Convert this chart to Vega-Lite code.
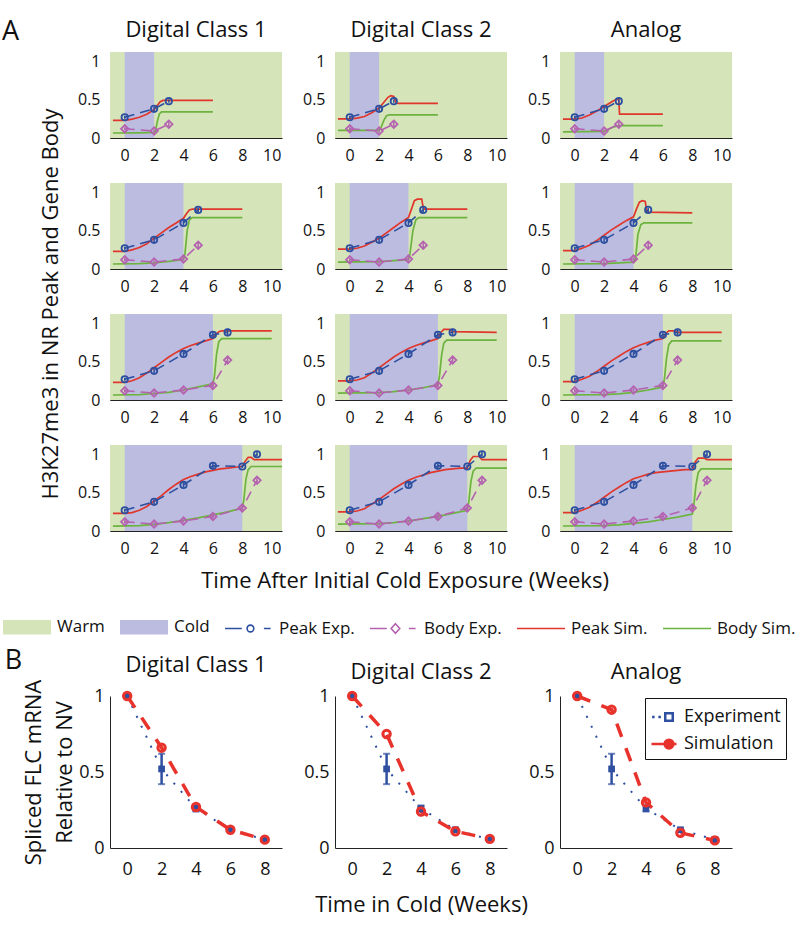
{
  "$schema": "https://vega.github.io/schema/vega-lite/v6.json",
  "padding": {"left": 2, "top": 18, "right": 2, "bottom": 4},
  "config": {
    "font": "Open Sans",
    "view": {"stroke": null},
    "axis": {"grid": false, "ticks": false, "domainColor": "#222", "domainWidth": 1, "labelColor": "#111", "titleColor": "#111", "titleFontWeight": "normal", "labelFlush": false, "labelOverlap": false},
    "header": {"labelColor": "#111", "titleColor": "#111", "titleFontWeight": "normal", "labelFontWeight": "normal"},
    "title": {"fontWeight": "normal", "color": "#111"},
    "legend": {"labelColor": "#111"}
  },
  "resolve": {"scale": {"color": "independent", "fill": "independent", "stroke": "independent", "shape": "independent"}},
  "datasets": {
    "a": [
      {"panel":"Digital Class 1","row":2,"series":"Warm","x":-1,"x2":10.7},
      {"panel":"Digital Class 1","row":4,"series":"Warm","x":-1,"x2":10.7},
      {"panel":"Digital Class 1","row":6,"series":"Warm","x":-1,"x2":10.7},
      {"panel":"Digital Class 1","row":8,"series":"Warm","x":-1,"x2":10.7},
      {"panel":"Digital Class 2","row":2,"series":"Warm","x":-1,"x2":10.7},
      {"panel":"Digital Class 2","row":4,"series":"Warm","x":-1,"x2":10.7},
      {"panel":"Digital Class 2","row":6,"series":"Warm","x":-1,"x2":10.7},
      {"panel":"Digital Class 2","row":8,"series":"Warm","x":-1,"x2":10.7},
      {"panel":"Analog","row":2,"series":"Warm","x":-1,"x2":10.7},
      {"panel":"Analog","row":4,"series":"Warm","x":-1,"x2":10.7},
      {"panel":"Analog","row":6,"series":"Warm","x":-1,"x2":10.7},
      {"panel":"Analog","row":8,"series":"Warm","x":-1,"x2":10.7},
      {"panel":"Digital Class 1","row":2,"series":"Cold","x":0,"x2":2},
      {"panel":"Digital Class 1","row":4,"series":"Cold","x":0,"x2":4},
      {"panel":"Digital Class 1","row":6,"series":"Cold","x":0,"x2":6},
      {"panel":"Digital Class 1","row":8,"series":"Cold","x":0,"x2":8},
      {"panel":"Digital Class 2","row":2,"series":"Cold","x":0,"x2":2},
      {"panel":"Digital Class 2","row":4,"series":"Cold","x":0,"x2":4},
      {"panel":"Digital Class 2","row":6,"series":"Cold","x":0,"x2":6},
      {"panel":"Digital Class 2","row":8,"series":"Cold","x":0,"x2":8},
      {"panel":"Analog","row":2,"series":"Cold","x":0,"x2":2},
      {"panel":"Analog","row":4,"series":"Cold","x":0,"x2":4},
      {"panel":"Analog","row":6,"series":"Cold","x":0,"x2":6},
      {"panel":"Analog","row":8,"series":"Cold","x":0,"x2":8},

      {"panel":"Digital Class 1","row":2,"series":"Peak Sim.","x":-0.8,"y":0.23},
      {"panel":"Digital Class 1","row":2,"series":"Peak Sim.","x":0,"y":0.23},
      {"panel":"Digital Class 1","row":2,"series":"Peak Sim.","x":0.5,"y":0.245},
      {"panel":"Digital Class 1","row":2,"series":"Peak Sim.","x":1,"y":0.27},
      {"panel":"Digital Class 1","row":2,"series":"Peak Sim.","x":1.5,"y":0.31},
      {"panel":"Digital Class 1","row":2,"series":"Peak Sim.","x":2,"y":0.37},
      {"panel":"Digital Class 1","row":2,"series":"Peak Sim.","x":2.2,"y":0.42},
      {"panel":"Digital Class 1","row":2,"series":"Peak Sim.","x":2.4,"y":0.47},
      {"panel":"Digital Class 1","row":2,"series":"Peak Sim.","x":2.6,"y":0.49},
      {"panel":"Digital Class 1","row":2,"series":"Peak Sim.","x":3,"y":0.49},
      {"panel":"Digital Class 1","row":2,"series":"Peak Sim.","x":6,"y":0.49},
      {"panel":"Digital Class 1","row":2,"series":"Body Sim.","x":-0.8,"y":0.065},
      {"panel":"Digital Class 1","row":2,"series":"Body Sim.","x":1,"y":0.068},
      {"panel":"Digital Class 1","row":2,"series":"Body Sim.","x":2,"y":0.072},
      {"panel":"Digital Class 1","row":2,"series":"Body Sim.","x":2.1,"y":0.09},
      {"panel":"Digital Class 1","row":2,"series":"Body Sim.","x":2.2,"y":0.2},
      {"panel":"Digital Class 1","row":2,"series":"Body Sim.","x":2.35,"y":0.31},
      {"panel":"Digital Class 1","row":2,"series":"Body Sim.","x":2.5,"y":0.34},
      {"panel":"Digital Class 1","row":2,"series":"Body Sim.","x":6,"y":0.34},

      {"panel":"Digital Class 1","row":4,"series":"Peak Sim.","x":-0.8,"y":0.23},
      {"panel":"Digital Class 1","row":4,"series":"Peak Sim.","x":0,"y":0.23},
      {"panel":"Digital Class 1","row":4,"series":"Peak Sim.","x":0.5,"y":0.25},
      {"panel":"Digital Class 1","row":4,"series":"Peak Sim.","x":1,"y":0.28},
      {"panel":"Digital Class 1","row":4,"series":"Peak Sim.","x":1.5,"y":0.33},
      {"panel":"Digital Class 1","row":4,"series":"Peak Sim.","x":2,"y":0.40},
      {"panel":"Digital Class 1","row":4,"series":"Peak Sim.","x":2.5,"y":0.47},
      {"panel":"Digital Class 1","row":4,"series":"Peak Sim.","x":3,"y":0.54},
      {"panel":"Digital Class 1","row":4,"series":"Peak Sim.","x":3.5,"y":0.60},
      {"panel":"Digital Class 1","row":4,"series":"Peak Sim.","x":4,"y":0.66},
      {"panel":"Digital Class 1","row":4,"series":"Peak Sim.","x":4.2,"y":0.72},
      {"panel":"Digital Class 1","row":4,"series":"Peak Sim.","x":4.4,"y":0.77},
      {"panel":"Digital Class 1","row":4,"series":"Peak Sim.","x":4.6,"y":0.78},
      {"panel":"Digital Class 1","row":4,"series":"Peak Sim.","x":8,"y":0.78},
      {"panel":"Digital Class 1","row":4,"series":"Body Sim.","x":-0.8,"y":0.065},
      {"panel":"Digital Class 1","row":4,"series":"Body Sim.","x":1,"y":0.07},
      {"panel":"Digital Class 1","row":4,"series":"Body Sim.","x":2,"y":0.08},
      {"panel":"Digital Class 1","row":4,"series":"Body Sim.","x":3,"y":0.10},
      {"panel":"Digital Class 1","row":4,"series":"Body Sim.","x":4,"y":0.125},
      {"panel":"Digital Class 1","row":4,"series":"Body Sim.","x":4.1,"y":0.2},
      {"panel":"Digital Class 1","row":4,"series":"Body Sim.","x":4.25,"y":0.5},
      {"panel":"Digital Class 1","row":4,"series":"Body Sim.","x":4.4,"y":0.64},
      {"panel":"Digital Class 1","row":4,"series":"Body Sim.","x":4.6,"y":0.67},
      {"panel":"Digital Class 1","row":4,"series":"Body Sim.","x":8,"y":0.67},

      {"panel":"Digital Class 1","row":6,"series":"Peak Sim.","x":-0.8,"y":0.23},
      {"panel":"Digital Class 1","row":6,"series":"Peak Sim.","x":0,"y":0.23},
      {"panel":"Digital Class 1","row":6,"series":"Peak Sim.","x":0.5,"y":0.25},
      {"panel":"Digital Class 1","row":6,"series":"Peak Sim.","x":1,"y":0.29},
      {"panel":"Digital Class 1","row":6,"series":"Peak Sim.","x":1.5,"y":0.35},
      {"panel":"Digital Class 1","row":6,"series":"Peak Sim.","x":2,"y":0.42},
      {"panel":"Digital Class 1","row":6,"series":"Peak Sim.","x":2.5,"y":0.49},
      {"panel":"Digital Class 1","row":6,"series":"Peak Sim.","x":3,"y":0.56},
      {"panel":"Digital Class 1","row":6,"series":"Peak Sim.","x":3.5,"y":0.62},
      {"panel":"Digital Class 1","row":6,"series":"Peak Sim.","x":4,"y":0.67},
      {"panel":"Digital Class 1","row":6,"series":"Peak Sim.","x":4.5,"y":0.71},
      {"panel":"Digital Class 1","row":6,"series":"Peak Sim.","x":5,"y":0.74},
      {"panel":"Digital Class 1","row":6,"series":"Peak Sim.","x":5.5,"y":0.77},
      {"panel":"Digital Class 1","row":6,"series":"Peak Sim.","x":6,"y":0.80},
      {"panel":"Digital Class 1","row":6,"series":"Peak Sim.","x":6.2,"y":0.86},
      {"panel":"Digital Class 1","row":6,"series":"Peak Sim.","x":6.4,"y":0.89},
      {"panel":"Digital Class 1","row":6,"series":"Peak Sim.","x":6.6,"y":0.90},
      {"panel":"Digital Class 1","row":6,"series":"Peak Sim.","x":10,"y":0.90},
      {"panel":"Digital Class 1","row":6,"series":"Body Sim.","x":-0.8,"y":0.065},
      {"panel":"Digital Class 1","row":6,"series":"Body Sim.","x":1,"y":0.07},
      {"panel":"Digital Class 1","row":6,"series":"Body Sim.","x":2,"y":0.085},
      {"panel":"Digital Class 1","row":6,"series":"Body Sim.","x":3,"y":0.10},
      {"panel":"Digital Class 1","row":6,"series":"Body Sim.","x":4,"y":0.13},
      {"panel":"Digital Class 1","row":6,"series":"Body Sim.","x":5,"y":0.17},
      {"panel":"Digital Class 1","row":6,"series":"Body Sim.","x":6,"y":0.21},
      {"panel":"Digital Class 1","row":6,"series":"Body Sim.","x":6.1,"y":0.30},
      {"panel":"Digital Class 1","row":6,"series":"Body Sim.","x":6.25,"y":0.60},
      {"panel":"Digital Class 1","row":6,"series":"Body Sim.","x":6.4,"y":0.76},
      {"panel":"Digital Class 1","row":6,"series":"Body Sim.","x":6.6,"y":0.80},
      {"panel":"Digital Class 1","row":6,"series":"Body Sim.","x":10,"y":0.80},

      {"panel":"Digital Class 1","row":8,"series":"Peak Sim.","x":-0.8,"y":0.23},
      {"panel":"Digital Class 1","row":8,"series":"Peak Sim.","x":0,"y":0.23},
      {"panel":"Digital Class 1","row":8,"series":"Peak Sim.","x":0.5,"y":0.24},
      {"panel":"Digital Class 1","row":8,"series":"Peak Sim.","x":1,"y":0.27},
      {"panel":"Digital Class 1","row":8,"series":"Peak Sim.","x":1.5,"y":0.32},
      {"panel":"Digital Class 1","row":8,"series":"Peak Sim.","x":2,"y":0.39},
      {"panel":"Digital Class 1","row":8,"series":"Peak Sim.","x":2.5,"y":0.46},
      {"panel":"Digital Class 1","row":8,"series":"Peak Sim.","x":3,"y":0.54},
      {"panel":"Digital Class 1","row":8,"series":"Peak Sim.","x":3.5,"y":0.61},
      {"panel":"Digital Class 1","row":8,"series":"Peak Sim.","x":4,"y":0.67},
      {"panel":"Digital Class 1","row":8,"series":"Peak Sim.","x":4.5,"y":0.71},
      {"panel":"Digital Class 1","row":8,"series":"Peak Sim.","x":5,"y":0.74},
      {"panel":"Digital Class 1","row":8,"series":"Peak Sim.","x":5.5,"y":0.77},
      {"panel":"Digital Class 1","row":8,"series":"Peak Sim.","x":6,"y":0.79},
      {"panel":"Digital Class 1","row":8,"series":"Peak Sim.","x":6.5,"y":0.81},
      {"panel":"Digital Class 1","row":8,"series":"Peak Sim.","x":7,"y":0.82},
      {"panel":"Digital Class 1","row":8,"series":"Peak Sim.","x":7.5,"y":0.83},
      {"panel":"Digital Class 1","row":8,"series":"Peak Sim.","x":8,"y":0.84},
      {"panel":"Digital Class 1","row":8,"series":"Peak Sim.","x":8.2,"y":0.91},
      {"panel":"Digital Class 1","row":8,"series":"Peak Sim.","x":8.4,"y":0.96},
      {"panel":"Digital Class 1","row":8,"series":"Peak Sim.","x":8.6,"y":0.96},
      {"panel":"Digital Class 1","row":8,"series":"Peak Sim.","x":8.8,"y":0.93},
      {"panel":"Digital Class 1","row":8,"series":"Peak Sim.","x":10.7,"y":0.93},
      {"panel":"Digital Class 1","row":8,"series":"Body Sim.","x":-0.8,"y":0.064},
      {"panel":"Digital Class 1","row":8,"series":"Body Sim.","x":1,"y":0.07},
      {"panel":"Digital Class 1","row":8,"series":"Body Sim.","x":2,"y":0.086},
      {"panel":"Digital Class 1","row":8,"series":"Body Sim.","x":3,"y":0.11},
      {"panel":"Digital Class 1","row":8,"series":"Body Sim.","x":4,"y":0.14},
      {"panel":"Digital Class 1","row":8,"series":"Body Sim.","x":5,"y":0.17},
      {"panel":"Digital Class 1","row":8,"series":"Body Sim.","x":6,"y":0.21},
      {"panel":"Digital Class 1","row":8,"series":"Body Sim.","x":7,"y":0.25},
      {"panel":"Digital Class 1","row":8,"series":"Body Sim.","x":8,"y":0.30},
      {"panel":"Digital Class 1","row":8,"series":"Body Sim.","x":8.1,"y":0.40},
      {"panel":"Digital Class 1","row":8,"series":"Body Sim.","x":8.25,"y":0.68},
      {"panel":"Digital Class 1","row":8,"series":"Body Sim.","x":8.4,"y":0.80},
      {"panel":"Digital Class 1","row":8,"series":"Body Sim.","x":8.6,"y":0.84},
      {"panel":"Digital Class 1","row":8,"series":"Body Sim.","x":10.7,"y":0.84},

      {"panel":"Digital Class 2","row":2,"series":"Peak Sim.","x":-0.8,"y":0.25},
      {"panel":"Digital Class 2","row":2,"series":"Peak Sim.","x":0,"y":0.25},
      {"panel":"Digital Class 2","row":2,"series":"Peak Sim.","x":0.5,"y":0.26},
      {"panel":"Digital Class 2","row":2,"series":"Peak Sim.","x":1,"y":0.28},
      {"panel":"Digital Class 2","row":2,"series":"Peak Sim.","x":1.5,"y":0.33},
      {"panel":"Digital Class 2","row":2,"series":"Peak Sim.","x":2,"y":0.39},
      {"panel":"Digital Class 2","row":2,"series":"Peak Sim.","x":2.3,"y":0.46},
      {"panel":"Digital Class 2","row":2,"series":"Peak Sim.","x":2.6,"y":0.53},
      {"panel":"Digital Class 2","row":2,"series":"Peak Sim.","x":2.8,"y":0.55},
      {"panel":"Digital Class 2","row":2,"series":"Peak Sim.","x":3.0,"y":0.54},
      {"panel":"Digital Class 2","row":2,"series":"Peak Sim.","x":3.15,"y":0.46},
      {"panel":"Digital Class 2","row":2,"series":"Peak Sim.","x":3.3,"y":0.45},
      {"panel":"Digital Class 2","row":2,"series":"Peak Sim.","x":6,"y":0.45},
      {"panel":"Digital Class 2","row":2,"series":"Body Sim.","x":-0.8,"y":0.10},
      {"panel":"Digital Class 2","row":2,"series":"Body Sim.","x":2,"y":0.10},
      {"panel":"Digital Class 2","row":2,"series":"Body Sim.","x":2.1,"y":0.12},
      {"panel":"Digital Class 2","row":2,"series":"Body Sim.","x":2.3,"y":0.22},
      {"panel":"Digital Class 2","row":2,"series":"Body Sim.","x":2.5,"y":0.29},
      {"panel":"Digital Class 2","row":2,"series":"Body Sim.","x":2.7,"y":0.30},
      {"panel":"Digital Class 2","row":2,"series":"Body Sim.","x":6,"y":0.30},

      {"panel":"Digital Class 2","row":4,"series":"Peak Sim.","x":-0.8,"y":0.26},
      {"panel":"Digital Class 2","row":4,"series":"Peak Sim.","x":0,"y":0.26},
      {"panel":"Digital Class 2","row":4,"series":"Peak Sim.","x":0.5,"y":0.27},
      {"panel":"Digital Class 2","row":4,"series":"Peak Sim.","x":1,"y":0.30},
      {"panel":"Digital Class 2","row":4,"series":"Peak Sim.","x":1.5,"y":0.35},
      {"panel":"Digital Class 2","row":4,"series":"Peak Sim.","x":2,"y":0.40},
      {"panel":"Digital Class 2","row":4,"series":"Peak Sim.","x":2.5,"y":0.47},
      {"panel":"Digital Class 2","row":4,"series":"Peak Sim.","x":3,"y":0.54},
      {"panel":"Digital Class 2","row":4,"series":"Peak Sim.","x":3.5,"y":0.61},
      {"panel":"Digital Class 2","row":4,"series":"Peak Sim.","x":4,"y":0.67},
      {"panel":"Digital Class 2","row":4,"series":"Peak Sim.","x":4.2,"y":0.78},
      {"panel":"Digital Class 2","row":4,"series":"Peak Sim.","x":4.4,"y":0.89},
      {"panel":"Digital Class 2","row":4,"series":"Peak Sim.","x":4.6,"y":0.91},
      {"panel":"Digital Class 2","row":4,"series":"Peak Sim.","x":4.9,"y":0.91},
      {"panel":"Digital Class 2","row":4,"series":"Peak Sim.","x":5.0,"y":0.80},
      {"panel":"Digital Class 2","row":4,"series":"Peak Sim.","x":5.1,"y":0.78},
      {"panel":"Digital Class 2","row":4,"series":"Peak Sim.","x":8,"y":0.78},
      {"panel":"Digital Class 2","row":4,"series":"Body Sim.","x":-0.8,"y":0.09},
      {"panel":"Digital Class 2","row":4,"series":"Body Sim.","x":2,"y":0.095},
      {"panel":"Digital Class 2","row":4,"series":"Body Sim.","x":3,"y":0.11},
      {"panel":"Digital Class 2","row":4,"series":"Body Sim.","x":4,"y":0.12},
      {"panel":"Digital Class 2","row":4,"series":"Body Sim.","x":4.1,"y":0.20},
      {"panel":"Digital Class 2","row":4,"series":"Body Sim.","x":4.3,"y":0.50},
      {"panel":"Digital Class 2","row":4,"series":"Body Sim.","x":4.5,"y":0.64},
      {"panel":"Digital Class 2","row":4,"series":"Body Sim.","x":4.7,"y":0.67},
      {"panel":"Digital Class 2","row":4,"series":"Body Sim.","x":8,"y":0.67},

      {"panel":"Digital Class 2","row":6,"series":"Peak Sim.","x":-0.8,"y":0.25},
      {"panel":"Digital Class 2","row":6,"series":"Peak Sim.","x":0,"y":0.25},
      {"panel":"Digital Class 2","row":6,"series":"Peak Sim.","x":0.5,"y":0.26},
      {"panel":"Digital Class 2","row":6,"series":"Peak Sim.","x":1,"y":0.29},
      {"panel":"Digital Class 2","row":6,"series":"Peak Sim.","x":1.5,"y":0.35},
      {"panel":"Digital Class 2","row":6,"series":"Peak Sim.","x":2,"y":0.42},
      {"panel":"Digital Class 2","row":6,"series":"Peak Sim.","x":2.5,"y":0.49},
      {"panel":"Digital Class 2","row":6,"series":"Peak Sim.","x":3,"y":0.56},
      {"panel":"Digital Class 2","row":6,"series":"Peak Sim.","x":3.5,"y":0.62},
      {"panel":"Digital Class 2","row":6,"series":"Peak Sim.","x":4,"y":0.67},
      {"panel":"Digital Class 2","row":6,"series":"Peak Sim.","x":4.5,"y":0.71},
      {"panel":"Digital Class 2","row":6,"series":"Peak Sim.","x":5,"y":0.74},
      {"panel":"Digital Class 2","row":6,"series":"Peak Sim.","x":5.5,"y":0.77},
      {"panel":"Digital Class 2","row":6,"series":"Peak Sim.","x":6,"y":0.80},
      {"panel":"Digital Class 2","row":6,"series":"Peak Sim.","x":6.2,"y":0.88},
      {"panel":"Digital Class 2","row":6,"series":"Peak Sim.","x":6.4,"y":0.92},
      {"panel":"Digital Class 2","row":6,"series":"Peak Sim.","x":6.8,"y":0.92},
      {"panel":"Digital Class 2","row":6,"series":"Peak Sim.","x":7.0,"y":0.89},
      {"panel":"Digital Class 2","row":6,"series":"Peak Sim.","x":10,"y":0.88},
      {"panel":"Digital Class 2","row":6,"series":"Body Sim.","x":-0.8,"y":0.09},
      {"panel":"Digital Class 2","row":6,"series":"Body Sim.","x":2,"y":0.095},
      {"panel":"Digital Class 2","row":6,"series":"Body Sim.","x":3,"y":0.11},
      {"panel":"Digital Class 2","row":6,"series":"Body Sim.","x":4,"y":0.13},
      {"panel":"Digital Class 2","row":6,"series":"Body Sim.","x":5,"y":0.16},
      {"panel":"Digital Class 2","row":6,"series":"Body Sim.","x":6,"y":0.20},
      {"panel":"Digital Class 2","row":6,"series":"Body Sim.","x":6.1,"y":0.30},
      {"panel":"Digital Class 2","row":6,"series":"Body Sim.","x":6.25,"y":0.58},
      {"panel":"Digital Class 2","row":6,"series":"Body Sim.","x":6.4,"y":0.74},
      {"panel":"Digital Class 2","row":6,"series":"Body Sim.","x":6.6,"y":0.78},
      {"panel":"Digital Class 2","row":6,"series":"Body Sim.","x":10,"y":0.78},

      {"panel":"Digital Class 2","row":8,"series":"Peak Sim.","x":-0.8,"y":0.25},
      {"panel":"Digital Class 2","row":8,"series":"Peak Sim.","x":0,"y":0.25},
      {"panel":"Digital Class 2","row":8,"series":"Peak Sim.","x":0.5,"y":0.26},
      {"panel":"Digital Class 2","row":8,"series":"Peak Sim.","x":1,"y":0.29},
      {"panel":"Digital Class 2","row":8,"series":"Peak Sim.","x":1.5,"y":0.35},
      {"panel":"Digital Class 2","row":8,"series":"Peak Sim.","x":2,"y":0.41},
      {"panel":"Digital Class 2","row":8,"series":"Peak Sim.","x":2.5,"y":0.48},
      {"panel":"Digital Class 2","row":8,"series":"Peak Sim.","x":3,"y":0.55},
      {"panel":"Digital Class 2","row":8,"series":"Peak Sim.","x":3.5,"y":0.61},
      {"panel":"Digital Class 2","row":8,"series":"Peak Sim.","x":4,"y":0.66},
      {"panel":"Digital Class 2","row":8,"series":"Peak Sim.","x":4.5,"y":0.70},
      {"panel":"Digital Class 2","row":8,"series":"Peak Sim.","x":5,"y":0.73},
      {"panel":"Digital Class 2","row":8,"series":"Peak Sim.","x":5.5,"y":0.76},
      {"panel":"Digital Class 2","row":8,"series":"Peak Sim.","x":6,"y":0.78},
      {"panel":"Digital Class 2","row":8,"series":"Peak Sim.","x":6.5,"y":0.80},
      {"panel":"Digital Class 2","row":8,"series":"Peak Sim.","x":7,"y":0.81},
      {"panel":"Digital Class 2","row":8,"series":"Peak Sim.","x":7.5,"y":0.82},
      {"panel":"Digital Class 2","row":8,"series":"Peak Sim.","x":8,"y":0.82},
      {"panel":"Digital Class 2","row":8,"series":"Peak Sim.","x":8.2,"y":0.92},
      {"panel":"Digital Class 2","row":8,"series":"Peak Sim.","x":8.4,"y":0.97},
      {"panel":"Digital Class 2","row":8,"series":"Peak Sim.","x":8.8,"y":0.97},
      {"panel":"Digital Class 2","row":8,"series":"Peak Sim.","x":9.0,"y":0.93},
      {"panel":"Digital Class 2","row":8,"series":"Peak Sim.","x":10.7,"y":0.93},
      {"panel":"Digital Class 2","row":8,"series":"Body Sim.","x":-0.8,"y":0.09},
      {"panel":"Digital Class 2","row":8,"series":"Body Sim.","x":2,"y":0.095},
      {"panel":"Digital Class 2","row":8,"series":"Body Sim.","x":3,"y":0.11},
      {"panel":"Digital Class 2","row":8,"series":"Body Sim.","x":4,"y":0.13},
      {"panel":"Digital Class 2","row":8,"series":"Body Sim.","x":5,"y":0.16},
      {"panel":"Digital Class 2","row":8,"series":"Body Sim.","x":6,"y":0.19},
      {"panel":"Digital Class 2","row":8,"series":"Body Sim.","x":7,"y":0.23},
      {"panel":"Digital Class 2","row":8,"series":"Body Sim.","x":8,"y":0.27},
      {"panel":"Digital Class 2","row":8,"series":"Body Sim.","x":8.1,"y":0.38},
      {"panel":"Digital Class 2","row":8,"series":"Body Sim.","x":8.25,"y":0.65},
      {"panel":"Digital Class 2","row":8,"series":"Body Sim.","x":8.4,"y":0.78},
      {"panel":"Digital Class 2","row":8,"series":"Body Sim.","x":8.6,"y":0.82},
      {"panel":"Digital Class 2","row":8,"series":"Body Sim.","x":10.7,"y":0.82},

      {"panel":"Analog","row":2,"series":"Peak Sim.","x":-0.8,"y":0.245},
      {"panel":"Analog","row":2,"series":"Peak Sim.","x":0,"y":0.245},
      {"panel":"Analog","row":2,"series":"Peak Sim.","x":0.5,"y":0.26},
      {"panel":"Analog","row":2,"series":"Peak Sim.","x":1,"y":0.30},
      {"panel":"Analog","row":2,"series":"Peak Sim.","x":1.5,"y":0.35},
      {"panel":"Analog","row":2,"series":"Peak Sim.","x":2,"y":0.41},
      {"panel":"Analog","row":2,"series":"Peak Sim.","x":2.5,"y":0.47},
      {"panel":"Analog","row":2,"series":"Peak Sim.","x":2.8,"y":0.50},
      {"panel":"Analog","row":2,"series":"Peak Sim.","x":3.0,"y":0.51},
      {"panel":"Analog","row":2,"series":"Peak Sim.","x":3.05,"y":0.31},
      {"panel":"Analog","row":2,"series":"Peak Sim.","x":6,"y":0.31},
      {"panel":"Analog","row":2,"series":"Body Sim.","x":-0.8,"y":0.08},
      {"panel":"Analog","row":2,"series":"Body Sim.","x":2,"y":0.085},
      {"panel":"Analog","row":2,"series":"Body Sim.","x":2.3,"y":0.11},
      {"panel":"Analog","row":2,"series":"Body Sim.","x":2.6,"y":0.14},
      {"panel":"Analog","row":2,"series":"Body Sim.","x":3,"y":0.16},
      {"panel":"Analog","row":2,"series":"Body Sim.","x":6,"y":0.16},

      {"panel":"Analog","row":4,"series":"Peak Sim.","x":-0.8,"y":0.24},
      {"panel":"Analog","row":4,"series":"Peak Sim.","x":0,"y":0.24},
      {"panel":"Analog","row":4,"series":"Peak Sim.","x":0.5,"y":0.27},
      {"panel":"Analog","row":4,"series":"Peak Sim.","x":1,"y":0.31},
      {"panel":"Analog","row":4,"series":"Peak Sim.","x":1.5,"y":0.37},
      {"panel":"Analog","row":4,"series":"Peak Sim.","x":2,"y":0.44},
      {"panel":"Analog","row":4,"series":"Peak Sim.","x":2.5,"y":0.51},
      {"panel":"Analog","row":4,"series":"Peak Sim.","x":3,"y":0.57},
      {"panel":"Analog","row":4,"series":"Peak Sim.","x":3.5,"y":0.63},
      {"panel":"Analog","row":4,"series":"Peak Sim.","x":4,"y":0.68},
      {"panel":"Analog","row":4,"series":"Peak Sim.","x":4.2,"y":0.78},
      {"panel":"Analog","row":4,"series":"Peak Sim.","x":4.4,"y":0.87},
      {"panel":"Analog","row":4,"series":"Peak Sim.","x":4.6,"y":0.89},
      {"panel":"Analog","row":4,"series":"Peak Sim.","x":4.8,"y":0.88},
      {"panel":"Analog","row":4,"series":"Peak Sim.","x":4.9,"y":0.74},
      {"panel":"Analog","row":4,"series":"Peak Sim.","x":8,"y":0.73},
      {"panel":"Analog","row":4,"series":"Body Sim.","x":-0.8,"y":0.065},
      {"panel":"Analog","row":4,"series":"Body Sim.","x":2,"y":0.07},
      {"panel":"Analog","row":4,"series":"Body Sim.","x":3,"y":0.08},
      {"panel":"Analog","row":4,"series":"Body Sim.","x":4,"y":0.09},
      {"panel":"Analog","row":4,"series":"Body Sim.","x":4.15,"y":0.15},
      {"panel":"Analog","row":4,"series":"Body Sim.","x":4.3,"y":0.45},
      {"panel":"Analog","row":4,"series":"Body Sim.","x":4.5,"y":0.58},
      {"panel":"Analog","row":4,"series":"Body Sim.","x":4.7,"y":0.60},
      {"panel":"Analog","row":4,"series":"Body Sim.","x":8,"y":0.60},

      {"panel":"Analog","row":6,"series":"Peak Sim.","x":-0.8,"y":0.24},
      {"panel":"Analog","row":6,"series":"Peak Sim.","x":0,"y":0.24},
      {"panel":"Analog","row":6,"series":"Peak Sim.","x":0.5,"y":0.27},
      {"panel":"Analog","row":6,"series":"Peak Sim.","x":1,"y":0.31},
      {"panel":"Analog","row":6,"series":"Peak Sim.","x":1.5,"y":0.37},
      {"panel":"Analog","row":6,"series":"Peak Sim.","x":2,"y":0.44},
      {"panel":"Analog","row":6,"series":"Peak Sim.","x":2.5,"y":0.51},
      {"panel":"Analog","row":6,"series":"Peak Sim.","x":3,"y":0.57},
      {"panel":"Analog","row":6,"series":"Peak Sim.","x":3.5,"y":0.63},
      {"panel":"Analog","row":6,"series":"Peak Sim.","x":4,"y":0.68},
      {"panel":"Analog","row":6,"series":"Peak Sim.","x":4.5,"y":0.72},
      {"panel":"Analog","row":6,"series":"Peak Sim.","x":5,"y":0.75},
      {"panel":"Analog","row":6,"series":"Peak Sim.","x":5.5,"y":0.78},
      {"panel":"Analog","row":6,"series":"Peak Sim.","x":6,"y":0.80},
      {"panel":"Analog","row":6,"series":"Peak Sim.","x":6.2,"y":0.87},
      {"panel":"Analog","row":6,"series":"Peak Sim.","x":6.4,"y":0.90},
      {"panel":"Analog","row":6,"series":"Peak Sim.","x":6.8,"y":0.90},
      {"panel":"Analog","row":6,"series":"Peak Sim.","x":7,"y":0.88},
      {"panel":"Analog","row":6,"series":"Peak Sim.","x":10,"y":0.88},
      {"panel":"Analog","row":6,"series":"Body Sim.","x":-0.8,"y":0.065},
      {"panel":"Analog","row":6,"series":"Body Sim.","x":2,"y":0.07},
      {"panel":"Analog","row":6,"series":"Body Sim.","x":3,"y":0.08},
      {"panel":"Analog","row":6,"series":"Body Sim.","x":4,"y":0.10},
      {"panel":"Analog","row":6,"series":"Body Sim.","x":5,"y":0.13},
      {"panel":"Analog","row":6,"series":"Body Sim.","x":6,"y":0.17},
      {"panel":"Analog","row":6,"series":"Body Sim.","x":6.1,"y":0.27},
      {"panel":"Analog","row":6,"series":"Body Sim.","x":6.25,"y":0.55},
      {"panel":"Analog","row":6,"series":"Body Sim.","x":6.4,"y":0.72},
      {"panel":"Analog","row":6,"series":"Body Sim.","x":6.6,"y":0.77},
      {"panel":"Analog","row":6,"series":"Body Sim.","x":10,"y":0.77},

      {"panel":"Analog","row":8,"series":"Peak Sim.","x":-0.8,"y":0.24},
      {"panel":"Analog","row":8,"series":"Peak Sim.","x":0,"y":0.24},
      {"panel":"Analog","row":8,"series":"Peak Sim.","x":0.5,"y":0.27},
      {"panel":"Analog","row":8,"series":"Peak Sim.","x":1,"y":0.31},
      {"panel":"Analog","row":8,"series":"Peak Sim.","x":1.5,"y":0.37},
      {"panel":"Analog","row":8,"series":"Peak Sim.","x":2,"y":0.44},
      {"panel":"Analog","row":8,"series":"Peak Sim.","x":2.5,"y":0.51},
      {"panel":"Analog","row":8,"series":"Peak Sim.","x":3,"y":0.57},
      {"panel":"Analog","row":8,"series":"Peak Sim.","x":3.5,"y":0.63},
      {"panel":"Analog","row":8,"series":"Peak Sim.","x":4,"y":0.68},
      {"panel":"Analog","row":8,"series":"Peak Sim.","x":4.5,"y":0.71},
      {"panel":"Analog","row":8,"series":"Peak Sim.","x":5,"y":0.74},
      {"panel":"Analog","row":8,"series":"Peak Sim.","x":5.5,"y":0.76},
      {"panel":"Analog","row":8,"series":"Peak Sim.","x":6,"y":0.77},
      {"panel":"Analog","row":8,"series":"Peak Sim.","x":6.5,"y":0.78},
      {"panel":"Analog","row":8,"series":"Peak Sim.","x":7,"y":0.79},
      {"panel":"Analog","row":8,"series":"Peak Sim.","x":7.5,"y":0.80},
      {"panel":"Analog","row":8,"series":"Peak Sim.","x":8,"y":0.80},
      {"panel":"Analog","row":8,"series":"Peak Sim.","x":8.2,"y":0.90},
      {"panel":"Analog","row":8,"series":"Peak Sim.","x":8.4,"y":0.95},
      {"panel":"Analog","row":8,"series":"Peak Sim.","x":8.8,"y":0.95},
      {"panel":"Analog","row":8,"series":"Peak Sim.","x":9.0,"y":0.93},
      {"panel":"Analog","row":8,"series":"Peak Sim.","x":10.7,"y":0.93},
      {"panel":"Analog","row":8,"series":"Body Sim.","x":-0.8,"y":0.065},
      {"panel":"Analog","row":8,"series":"Body Sim.","x":2,"y":0.07},
      {"panel":"Analog","row":8,"series":"Body Sim.","x":3,"y":0.08},
      {"panel":"Analog","row":8,"series":"Body Sim.","x":4,"y":0.10},
      {"panel":"Analog","row":8,"series":"Body Sim.","x":5,"y":0.12},
      {"panel":"Analog","row":8,"series":"Body Sim.","x":6,"y":0.15},
      {"panel":"Analog","row":8,"series":"Body Sim.","x":7,"y":0.18},
      {"panel":"Analog","row":8,"series":"Body Sim.","x":8,"y":0.22},
      {"panel":"Analog","row":8,"series":"Body Sim.","x":8.1,"y":0.33},
      {"panel":"Analog","row":8,"series":"Body Sim.","x":8.25,"y":0.60},
      {"panel":"Analog","row":8,"series":"Body Sim.","x":8.4,"y":0.76},
      {"panel":"Analog","row":8,"series":"Body Sim.","x":8.6,"y":0.81},
      {"panel":"Analog","row":8,"series":"Body Sim.","x":10.7,"y":0.81},

      {"panel":"Digital Class 1","row":2,"series":"Peak Exp.","x":0,"y":0.27,"lo":0.25,"hi":0.29},
      {"panel":"Digital Class 1","row":2,"series":"Peak Exp.","x":2,"y":0.38,"lo":0.35,"hi":0.41},
      {"panel":"Digital Class 1","row":2,"series":"Peak Exp.","x":3,"y":0.48,"lo":0.46,"hi":0.50},
      {"panel":"Digital Class 1","row":2,"series":"Body Exp.","x":0,"y":0.12,"lo":0.10,"hi":0.14},
      {"panel":"Digital Class 1","row":2,"series":"Body Exp.","x":2,"y":0.09,"lo":0.07,"hi":0.11},
      {"panel":"Digital Class 1","row":2,"series":"Body Exp.","x":3,"y":0.18,"lo":0.15,"hi":0.21},
      {"panel":"Digital Class 1","row":4,"series":"Peak Exp.","x":0,"y":0.27,"lo":0.25,"hi":0.29},
      {"panel":"Digital Class 1","row":4,"series":"Peak Exp.","x":2,"y":0.38,"lo":0.35,"hi":0.41},
      {"panel":"Digital Class 1","row":4,"series":"Peak Exp.","x":4,"y":0.60,"lo":0.57,"hi":0.63},
      {"panel":"Digital Class 1","row":4,"series":"Peak Exp.","x":5,"y":0.77,"lo":0.74,"hi":0.80},
      {"panel":"Digital Class 1","row":4,"series":"Body Exp.","x":0,"y":0.12,"lo":0.10,"hi":0.14},
      {"panel":"Digital Class 1","row":4,"series":"Body Exp.","x":2,"y":0.09,"lo":0.07,"hi":0.11},
      {"panel":"Digital Class 1","row":4,"series":"Body Exp.","x":4,"y":0.13,"lo":0.11,"hi":0.15},
      {"panel":"Digital Class 1","row":4,"series":"Body Exp.","x":5,"y":0.31,"lo":0.27,"hi":0.35},
      {"panel":"Digital Class 1","row":6,"series":"Peak Exp.","x":0,"y":0.27,"lo":0.25,"hi":0.29},
      {"panel":"Digital Class 1","row":6,"series":"Peak Exp.","x":2,"y":0.38,"lo":0.35,"hi":0.41},
      {"panel":"Digital Class 1","row":6,"series":"Peak Exp.","x":4,"y":0.60,"lo":0.57,"hi":0.63},
      {"panel":"Digital Class 1","row":6,"series":"Peak Exp.","x":6,"y":0.85,"lo":0.80,"hi":0.90},
      {"panel":"Digital Class 1","row":6,"series":"Peak Exp.","x":7,"y":0.88,"lo":0.83,"hi":0.93},
      {"panel":"Digital Class 1","row":6,"series":"Body Exp.","x":0,"y":0.12,"lo":0.10,"hi":0.14},
      {"panel":"Digital Class 1","row":6,"series":"Body Exp.","x":2,"y":0.09,"lo":0.07,"hi":0.11},
      {"panel":"Digital Class 1","row":6,"series":"Body Exp.","x":4,"y":0.13,"lo":0.11,"hi":0.15},
      {"panel":"Digital Class 1","row":6,"series":"Body Exp.","x":6,"y":0.19,"lo":0.16,"hi":0.22},
      {"panel":"Digital Class 1","row":6,"series":"Body Exp.","x":7,"y":0.52,"lo":0.47,"hi":0.57},
      {"panel":"Digital Class 1","row":8,"series":"Peak Exp.","x":0,"y":0.27,"lo":0.25,"hi":0.29},
      {"panel":"Digital Class 1","row":8,"series":"Peak Exp.","x":2,"y":0.38,"lo":0.35,"hi":0.41},
      {"panel":"Digital Class 1","row":8,"series":"Peak Exp.","x":4,"y":0.60,"lo":0.57,"hi":0.63},
      {"panel":"Digital Class 1","row":8,"series":"Peak Exp.","x":6,"y":0.85,"lo":0.80,"hi":0.90},
      {"panel":"Digital Class 1","row":8,"series":"Peak Exp.","x":8,"y":0.84,"lo":0.82,"hi":0.86},
      {"panel":"Digital Class 1","row":8,"series":"Peak Exp.","x":9,"y":1.0,"lo":0.97,"hi":1.03},
      {"panel":"Digital Class 1","row":8,"series":"Body Exp.","x":0,"y":0.12,"lo":0.10,"hi":0.14},
      {"panel":"Digital Class 1","row":8,"series":"Body Exp.","x":2,"y":0.09,"lo":0.07,"hi":0.11},
      {"panel":"Digital Class 1","row":8,"series":"Body Exp.","x":4,"y":0.13,"lo":0.11,"hi":0.15},
      {"panel":"Digital Class 1","row":8,"series":"Body Exp.","x":6,"y":0.19,"lo":0.16,"hi":0.22},
      {"panel":"Digital Class 1","row":8,"series":"Body Exp.","x":8,"y":0.30,"lo":0.27,"hi":0.33},
      {"panel":"Digital Class 1","row":8,"series":"Body Exp.","x":9,"y":0.66,"lo":0.62,"hi":0.70},

      {"panel":"Digital Class 2","row":2,"series":"Peak Exp.","x":0,"y":0.27,"lo":0.25,"hi":0.29},
      {"panel":"Digital Class 2","row":2,"series":"Peak Exp.","x":2,"y":0.38,"lo":0.35,"hi":0.41},
      {"panel":"Digital Class 2","row":2,"series":"Peak Exp.","x":3,"y":0.48,"lo":0.46,"hi":0.50},
      {"panel":"Digital Class 2","row":2,"series":"Body Exp.","x":0,"y":0.12,"lo":0.10,"hi":0.14},
      {"panel":"Digital Class 2","row":2,"series":"Body Exp.","x":2,"y":0.09,"lo":0.07,"hi":0.11},
      {"panel":"Digital Class 2","row":2,"series":"Body Exp.","x":3,"y":0.18,"lo":0.15,"hi":0.21},
      {"panel":"Digital Class 2","row":4,"series":"Peak Exp.","x":0,"y":0.27,"lo":0.25,"hi":0.29},
      {"panel":"Digital Class 2","row":4,"series":"Peak Exp.","x":2,"y":0.38,"lo":0.35,"hi":0.41},
      {"panel":"Digital Class 2","row":4,"series":"Peak Exp.","x":4,"y":0.60,"lo":0.57,"hi":0.63},
      {"panel":"Digital Class 2","row":4,"series":"Peak Exp.","x":5,"y":0.77,"lo":0.74,"hi":0.80},
      {"panel":"Digital Class 2","row":4,"series":"Body Exp.","x":0,"y":0.12,"lo":0.10,"hi":0.14},
      {"panel":"Digital Class 2","row":4,"series":"Body Exp.","x":2,"y":0.09,"lo":0.07,"hi":0.11},
      {"panel":"Digital Class 2","row":4,"series":"Body Exp.","x":4,"y":0.13,"lo":0.11,"hi":0.15},
      {"panel":"Digital Class 2","row":4,"series":"Body Exp.","x":5,"y":0.31,"lo":0.27,"hi":0.35},
      {"panel":"Digital Class 2","row":6,"series":"Peak Exp.","x":0,"y":0.27,"lo":0.25,"hi":0.29},
      {"panel":"Digital Class 2","row":6,"series":"Peak Exp.","x":2,"y":0.38,"lo":0.35,"hi":0.41},
      {"panel":"Digital Class 2","row":6,"series":"Peak Exp.","x":4,"y":0.60,"lo":0.57,"hi":0.63},
      {"panel":"Digital Class 2","row":6,"series":"Peak Exp.","x":6,"y":0.85,"lo":0.80,"hi":0.90},
      {"panel":"Digital Class 2","row":6,"series":"Peak Exp.","x":7,"y":0.88,"lo":0.83,"hi":0.93},
      {"panel":"Digital Class 2","row":6,"series":"Body Exp.","x":0,"y":0.12,"lo":0.10,"hi":0.14},
      {"panel":"Digital Class 2","row":6,"series":"Body Exp.","x":2,"y":0.09,"lo":0.07,"hi":0.11},
      {"panel":"Digital Class 2","row":6,"series":"Body Exp.","x":4,"y":0.13,"lo":0.11,"hi":0.15},
      {"panel":"Digital Class 2","row":6,"series":"Body Exp.","x":6,"y":0.19,"lo":0.16,"hi":0.22},
      {"panel":"Digital Class 2","row":6,"series":"Body Exp.","x":7,"y":0.52,"lo":0.47,"hi":0.57},
      {"panel":"Digital Class 2","row":8,"series":"Peak Exp.","x":0,"y":0.27,"lo":0.25,"hi":0.29},
      {"panel":"Digital Class 2","row":8,"series":"Peak Exp.","x":2,"y":0.38,"lo":0.35,"hi":0.41},
      {"panel":"Digital Class 2","row":8,"series":"Peak Exp.","x":4,"y":0.60,"lo":0.57,"hi":0.63},
      {"panel":"Digital Class 2","row":8,"series":"Peak Exp.","x":6,"y":0.85,"lo":0.80,"hi":0.90},
      {"panel":"Digital Class 2","row":8,"series":"Peak Exp.","x":8,"y":0.84,"lo":0.82,"hi":0.86},
      {"panel":"Digital Class 2","row":8,"series":"Peak Exp.","x":9,"y":1.0,"lo":0.97,"hi":1.03},
      {"panel":"Digital Class 2","row":8,"series":"Body Exp.","x":0,"y":0.12,"lo":0.10,"hi":0.14},
      {"panel":"Digital Class 2","row":8,"series":"Body Exp.","x":2,"y":0.09,"lo":0.07,"hi":0.11},
      {"panel":"Digital Class 2","row":8,"series":"Body Exp.","x":4,"y":0.13,"lo":0.11,"hi":0.15},
      {"panel":"Digital Class 2","row":8,"series":"Body Exp.","x":6,"y":0.19,"lo":0.16,"hi":0.22},
      {"panel":"Digital Class 2","row":8,"series":"Body Exp.","x":8,"y":0.30,"lo":0.27,"hi":0.33},
      {"panel":"Digital Class 2","row":8,"series":"Body Exp.","x":9,"y":0.66,"lo":0.62,"hi":0.70},

      {"panel":"Analog","row":2,"series":"Peak Exp.","x":0,"y":0.27,"lo":0.25,"hi":0.29},
      {"panel":"Analog","row":2,"series":"Peak Exp.","x":2,"y":0.38,"lo":0.35,"hi":0.41},
      {"panel":"Analog","row":2,"series":"Peak Exp.","x":3,"y":0.48,"lo":0.46,"hi":0.50},
      {"panel":"Analog","row":2,"series":"Body Exp.","x":0,"y":0.12,"lo":0.10,"hi":0.14},
      {"panel":"Analog","row":2,"series":"Body Exp.","x":2,"y":0.09,"lo":0.07,"hi":0.11},
      {"panel":"Analog","row":2,"series":"Body Exp.","x":3,"y":0.18,"lo":0.15,"hi":0.21},
      {"panel":"Analog","row":4,"series":"Peak Exp.","x":0,"y":0.27,"lo":0.25,"hi":0.29},
      {"panel":"Analog","row":4,"series":"Peak Exp.","x":2,"y":0.38,"lo":0.35,"hi":0.41},
      {"panel":"Analog","row":4,"series":"Peak Exp.","x":4,"y":0.60,"lo":0.57,"hi":0.63},
      {"panel":"Analog","row":4,"series":"Peak Exp.","x":5,"y":0.77,"lo":0.74,"hi":0.80},
      {"panel":"Analog","row":4,"series":"Body Exp.","x":0,"y":0.12,"lo":0.10,"hi":0.14},
      {"panel":"Analog","row":4,"series":"Body Exp.","x":2,"y":0.09,"lo":0.07,"hi":0.11},
      {"panel":"Analog","row":4,"series":"Body Exp.","x":4,"y":0.13,"lo":0.11,"hi":0.15},
      {"panel":"Analog","row":4,"series":"Body Exp.","x":5,"y":0.31,"lo":0.27,"hi":0.35},
      {"panel":"Analog","row":6,"series":"Peak Exp.","x":0,"y":0.27,"lo":0.25,"hi":0.29},
      {"panel":"Analog","row":6,"series":"Peak Exp.","x":2,"y":0.38,"lo":0.35,"hi":0.41},
      {"panel":"Analog","row":6,"series":"Peak Exp.","x":4,"y":0.60,"lo":0.57,"hi":0.63},
      {"panel":"Analog","row":6,"series":"Peak Exp.","x":6,"y":0.85,"lo":0.80,"hi":0.90},
      {"panel":"Analog","row":6,"series":"Peak Exp.","x":7,"y":0.88,"lo":0.83,"hi":0.93},
      {"panel":"Analog","row":6,"series":"Body Exp.","x":0,"y":0.12,"lo":0.10,"hi":0.14},
      {"panel":"Analog","row":6,"series":"Body Exp.","x":2,"y":0.09,"lo":0.07,"hi":0.11},
      {"panel":"Analog","row":6,"series":"Body Exp.","x":4,"y":0.13,"lo":0.11,"hi":0.15},
      {"panel":"Analog","row":6,"series":"Body Exp.","x":6,"y":0.19,"lo":0.16,"hi":0.22},
      {"panel":"Analog","row":6,"series":"Body Exp.","x":7,"y":0.52,"lo":0.47,"hi":0.57},
      {"panel":"Analog","row":8,"series":"Peak Exp.","x":0,"y":0.27,"lo":0.25,"hi":0.29},
      {"panel":"Analog","row":8,"series":"Peak Exp.","x":2,"y":0.38,"lo":0.35,"hi":0.41},
      {"panel":"Analog","row":8,"series":"Peak Exp.","x":4,"y":0.60,"lo":0.57,"hi":0.63},
      {"panel":"Analog","row":8,"series":"Peak Exp.","x":6,"y":0.85,"lo":0.80,"hi":0.90},
      {"panel":"Analog","row":8,"series":"Peak Exp.","x":8,"y":0.84,"lo":0.82,"hi":0.86},
      {"panel":"Analog","row":8,"series":"Peak Exp.","x":9,"y":1.0,"lo":0.97,"hi":1.03},
      {"panel":"Analog","row":8,"series":"Body Exp.","x":0,"y":0.12,"lo":0.10,"hi":0.14},
      {"panel":"Analog","row":8,"series":"Body Exp.","x":2,"y":0.09,"lo":0.07,"hi":0.11},
      {"panel":"Analog","row":8,"series":"Body Exp.","x":4,"y":0.13,"lo":0.11,"hi":0.15},
      {"panel":"Analog","row":8,"series":"Body Exp.","x":6,"y":0.19,"lo":0.16,"hi":0.22},
      {"panel":"Analog","row":8,"series":"Body Exp.","x":8,"y":0.30,"lo":0.27,"hi":0.33},
      {"panel":"Analog","row":8,"series":"Body Exp.","x":9,"y":0.66,"lo":0.62,"hi":0.70}
    ],
    "b": [
      {"panel":"Digital Class 1","series":"Experiment","x":0,"y":1.0,"lo":1.0,"hi":1.0},
      {"panel":"Digital Class 1","series":"Experiment","x":2,"y":0.52,"lo":0.42,"hi":0.62},
      {"panel":"Digital Class 1","series":"Experiment","x":4,"y":0.26,"lo":0.24,"hi":0.28},
      {"panel":"Digital Class 1","series":"Experiment","x":6,"y":0.12,"lo":0.11,"hi":0.13},
      {"panel":"Digital Class 1","series":"Experiment","x":8,"y":0.055,"lo":0.045,"hi":0.065},
      {"panel":"Digital Class 1","series":"Simulation","x":0,"y":1.0},
      {"panel":"Digital Class 1","series":"Simulation","x":2,"y":0.66},
      {"panel":"Digital Class 1","series":"Simulation","x":4,"y":0.27},
      {"panel":"Digital Class 1","series":"Simulation","x":6,"y":0.12},
      {"panel":"Digital Class 1","series":"Simulation","x":8,"y":0.055},
      {"panel":"Digital Class 2","series":"Experiment","x":0,"y":1.0,"lo":1.0,"hi":1.0},
      {"panel":"Digital Class 2","series":"Experiment","x":2,"y":0.52,"lo":0.42,"hi":0.62},
      {"panel":"Digital Class 2","series":"Experiment","x":4,"y":0.26,"lo":0.24,"hi":0.28},
      {"panel":"Digital Class 2","series":"Experiment","x":6,"y":0.12,"lo":0.11,"hi":0.13},
      {"panel":"Digital Class 2","series":"Experiment","x":8,"y":0.055,"lo":0.045,"hi":0.065},
      {"panel":"Digital Class 2","series":"Simulation","x":0,"y":1.0},
      {"panel":"Digital Class 2","series":"Simulation","x":2,"y":0.75},
      {"panel":"Digital Class 2","series":"Simulation","x":4,"y":0.24},
      {"panel":"Digital Class 2","series":"Simulation","x":6,"y":0.11},
      {"panel":"Digital Class 2","series":"Simulation","x":8,"y":0.06},
      {"panel":"Analog","series":"Experiment","x":0,"y":1.0,"lo":1.0,"hi":1.0},
      {"panel":"Analog","series":"Experiment","x":2,"y":0.52,"lo":0.42,"hi":0.62},
      {"panel":"Analog","series":"Experiment","x":4,"y":0.26,"lo":0.24,"hi":0.28},
      {"panel":"Analog","series":"Experiment","x":6,"y":0.12,"lo":0.11,"hi":0.13},
      {"panel":"Analog","series":"Experiment","x":8,"y":0.055,"lo":0.045,"hi":0.065},
      {"panel":"Analog","series":"Simulation","x":0,"y":1.0},
      {"panel":"Analog","series":"Simulation","x":2,"y":0.91},
      {"panel":"Analog","series":"Simulation","x":4,"y":0.30},
      {"panel":"Analog","series":"Simulation","x":6,"y":0.10},
      {"panel":"Analog","series":"Simulation","x":8,"y":0.05}
    ]
  },
  "spacing": 9,
  "vconcat": [
    {
      "data": {"name": "a"},
      "title": {"text": "A", "anchor": "start", "frame": "bounds", "fontSize": 27, "offset": -27},
      "facet": {
        "row": {"field": "row", "type": "ordinal", "header": {"labels": false, "title": "H3K27me3 in NR Peak and Gene Body", "titleFontSize": 22, "titlePadding": 37}},
        "column": {"field": "panel", "type": "nominal", "sort": ["Digital Class 1", "Digital Class 2", "Analog"], "header": {"labelOrient": "top", "titleOrient": "bottom", "title": "Time After Initial Cold Exposure (Weeks)", "labelFontSize": 22, "titleFontSize": 22, "labelPadding": 10, "titlePadding": 30}}
      },
      "spacing": {"row": 45, "column": 53},
      "bounds": "flush",
      "resolve": {"axis": {"x": "independent", "y": "independent"}},
      "spec": {
        "width": 172,
        "height": 86,
        "encoding": {
          "x": {"field": "x", "type": "quantitative", "scale": {"domain": [-1, 10.7], "nice": false, "zero": false}, "axis": {"values": [0, 2, 4, 6, 8, 10], "title": null, "labelFontSize": 16, "labelPadding": 9}}
        },
        "layer": [
          {
            "transform": [{"filter": "false"}],
            "mark": {"type": "point", "filled": false, "size": 576, "strokeWidth": 1.6, "opacity": 1},
            "encoding": {
              "y": {"field": "y", "type": "quantitative", "scale": {"domain": [0, 1.12], "nice": false}, "axis": {"values": [0, 0.5, 1], "format": "~g", "title": null, "labelFontSize": 16, "labelPadding": 10}},
              "fill": {"field": "series", "type": "nominal",
                "scale": {"domain": ["Warm", "Cold", "Peak Exp.", "Body Exp.", "Peak Sim.", "Body Sim."], "range": ["#d6e4ba", "#bcbce0", "transparent", "transparent", "transparent", "transparent"]},
                "legend": {"orient": "none", "legendX": -108, "legendY": 562, "direction": "horizontal", "columns": 6, "title": null, "labelFontSize": 17, "labelOffset": 29, "columnPadding": 11, "symbolSize": 576, "symbolStrokeWidth": 1.6}},
              "stroke": {"field": "series", "type": "nominal",
                "scale": {"domain": ["Warm", "Cold", "Peak Exp.", "Body Exp.", "Peak Sim.", "Body Sim."], "range": ["transparent", "transparent", "#2d4f9f", "#b462b0", "#e0362c", "#6db33f"]},
                "legend": {"orient": "none", "legendX": -108, "legendY": 562, "direction": "horizontal", "columns": 6, "title": null, "labelFontSize": 17, "labelOffset": 29, "columnPadding": 11, "symbolSize": 576, "symbolStrokeWidth": 1.6}},
              "shape": {"field": "series", "type": "nominal",
                "scale": {"domain": ["Warm", "Cold", "Peak Exp.", "Body Exp.", "Peak Sim.", "Body Sim."], "range": ["M-1,-0.6H3V0.6H-1Z", "M-1,-0.6H3V0.6H-1Z", "M-1,0H0.4M1.4,0A0.28,0.28,0,1,1,0.84,0A0.28,0.28,0,1,1,1.4,0M2.24,0H2.8", "M-1,0H0.4M1.12,-0.4L1.48,0L1.12,0.4L0.76,0ZM2.24,0H2.8", "M-1,0H3", "M-1,0H3"]},
                "legend": {"orient": "none", "legendX": -108, "legendY": 562, "direction": "horizontal", "columns": 6, "title": null, "labelFontSize": 17, "labelOffset": 29, "columnPadding": 11, "symbolSize": 576, "symbolStrokeWidth": 1.6}}
            }
          },
          {
            "transform": [{"filter": "datum.series === 'Warm' || datum.series === 'Cold'"}],
            "mark": {"type": "rect"},
            "encoding": {
              "x2": {"field": "x2"},
              "fill": {"field": "series", "type": "nominal", "scale": {"domain": ["Warm", "Cold", "Peak Exp.", "Body Exp.", "Peak Sim.", "Body Sim."], "range": ["#d6e4ba", "#bcbce0", "transparent", "transparent", "transparent", "transparent"]}, "legend": null}
            }
          },
          {
            "transform": [{"filter": "datum.series === 'Peak Sim.' || datum.series === 'Body Sim.'"}],
            "mark": {"type": "line", "strokeWidth": 1.7, "clip": true},
            "encoding": {
              "y": {"field": "y", "type": "quantitative", "scale": {"domain": [0, 1.12], "nice": false}, "axis": {"values": [0, 0.5, 1], "format": "~g", "title": null, "labelFontSize": 16, "labelPadding": 10}},
              "stroke": {"field": "series", "type": "nominal", "scale": {"domain": ["Warm", "Cold", "Peak Exp.", "Body Exp.", "Peak Sim.", "Body Sim."], "range": ["transparent", "transparent", "#2d4f9f", "#b462b0", "#e0362c", "#6db33f"]}, "legend": null}
            }
          },
          {
            "transform": [{"filter": "datum.series === 'Peak Exp.' || datum.series === 'Body Exp.'"}],
            "mark": {"type": "rule", "strokeWidth": 1.5},
            "encoding": {
              "y": {"field": "lo", "type": "quantitative", "scale": {"domain": [0, 1.12], "nice": false}, "axis": {"values": [0, 0.5, 1], "format": "~g", "title": null, "labelFontSize": 16, "labelPadding": 10}},
              "y2": {"field": "hi"},
              "stroke": {"field": "series", "type": "nominal", "scale": {"domain": ["Warm", "Cold", "Peak Exp.", "Body Exp.", "Peak Sim.", "Body Sim."], "range": ["transparent", "transparent", "#2d4f9f", "#b462b0", "#e0362c", "#6db33f"]}, "legend": null}
            }
          },
          {
            "transform": [{"filter": "datum.series === 'Peak Exp.' || datum.series === 'Body Exp.'"}],
            "mark": {"type": "line", "strokeWidth": 1.6, "strokeDash": [10, 6]},
            "encoding": {
              "y": {"field": "y", "type": "quantitative", "scale": {"domain": [0, 1.12], "nice": false}, "axis": {"values": [0, 0.5, 1], "format": "~g", "title": null, "labelFontSize": 16, "labelPadding": 10}},
              "stroke": {"field": "series", "type": "nominal", "scale": {"domain": ["Warm", "Cold", "Peak Exp.", "Body Exp.", "Peak Sim.", "Body Sim."], "range": ["transparent", "transparent", "#2d4f9f", "#b462b0", "#e0362c", "#6db33f"]}, "legend": null}
            }
          },
          {
            "transform": [{"filter": "datum.series === 'Peak Exp.'"}],
            "mark": {"type": "point", "shape": "circle", "filled": false, "size": 40, "strokeWidth": 1.8, "opacity": 1},
            "encoding": {
              "y": {"field": "y", "type": "quantitative", "scale": {"domain": [0, 1.12], "nice": false}, "axis": {"values": [0, 0.5, 1], "format": "~g", "title": null, "labelFontSize": 16, "labelPadding": 10}},
              "stroke": {"field": "series", "type": "nominal", "scale": {"domain": ["Warm", "Cold", "Peak Exp.", "Body Exp.", "Peak Sim.", "Body Sim."], "range": ["transparent", "transparent", "#2d4f9f", "#b462b0", "#e0362c", "#6db33f"]}, "legend": null}
            }
          },
          {
            "transform": [{"filter": "datum.series === 'Body Exp.'"}],
            "mark": {"type": "point", "shape": "diamond", "filled": false, "size": 55, "strokeWidth": 1.8, "opacity": 1},
            "encoding": {
              "y": {"field": "y", "type": "quantitative", "scale": {"domain": [0, 1.12], "nice": false}, "axis": {"values": [0, 0.5, 1], "format": "~g", "title": null, "labelFontSize": 16, "labelPadding": 10}},
              "stroke": {"field": "series", "type": "nominal", "scale": {"domain": ["Warm", "Cold", "Peak Exp.", "Body Exp.", "Peak Sim.", "Body Sim."], "range": ["transparent", "transparent", "#2d4f9f", "#b462b0", "#e0362c", "#6db33f"]}, "legend": null}
            }
          }
        ]
      }
    },
    {
      "data": {"name": "b"},
      "title": {"text": "B", "anchor": "start", "frame": "bounds", "fontSize": 27, "offset": -21, "dx": -18},
      "spacing": 53,
      "bounds": "flush",
      "resolve": {"scale": {"color": "independent", "fill": "independent", "stroke": "independent", "shape": "independent"}},
      "hconcat": [
        {
          "title": {"text": "Digital Class 1", "fontSize": 22, "offset": 2},
          "width": 172, "height": 152,
          "transform": [{"filter": "datum.panel === 'Digital Class 1'"}],
          "encoding": {
            "x": {"field": "x", "type": "quantitative", "scale": {"domain": [-1, 9], "nice": false, "zero": false}, "axis": {"values": [0, 2, 4, 6, 8], "title": null, "labelFontSize": 18, "labelPadding": 12}},
            "y": {"field": "y", "type": "quantitative", "scale": {"domain": [0, 1], "nice": false}, "axis": {"values": [0, 0.5, 1], "format": "~g", "title": ["Spliced FLC mRNA", "Relative to NV"], "titleFontSize": 22, "titleLineHeight": 31, "titlePadding": 2, "labelFontSize": 18, "labelPadding": 6}},
            "color": {"field": "series", "type": "nominal", "scale": {"domain": ["Experiment", "Simulation"], "range": ["#2f4fa0", "#e8322c"]}, "legend": null}
          },
          "layer": [
            {"transform": [{"filter": "datum.series === 'Experiment'"}], "mark": {"type": "line", "strokeWidth": 2, "strokeDash": [2, 9]}},
            {"transform": [{"filter": "datum.series === 'Simulation'"}], "mark": {"type": "line", "strokeWidth": 3.5, "strokeDash": [14, 12]}},
            {"transform": [{"filter": "datum.series === 'Experiment'"}], "mark": {"type": "rule", "strokeWidth": 2.5}, "encoding": {"y": {"field": "lo", "type": "quantitative"}, "y2": {"field": "hi"}}},
            {"transform": [{"filter": "datum.series === 'Experiment'"}], "mark": {"type": "tick", "orient": "horizontal", "size": 7, "thickness": 2}, "encoding": {"y": {"field": "lo", "type": "quantitative"}}},
            {"transform": [{"filter": "datum.series === 'Experiment'"}], "mark": {"type": "tick", "orient": "horizontal", "size": 7, "thickness": 2}, "encoding": {"y": {"field": "hi", "type": "quantitative"}}},
            {"transform": [{"filter": "datum.series === 'Experiment'"}], "mark": {"type": "square", "size": 45, "opacity": 1}},
            {"transform": [{"filter": "datum.series === 'Simulation'"}], "mark": {"type": "point", "shape": "circle", "filled": false, "size": 55, "strokeWidth": 3, "opacity": 1}}
          ]
        },
        {
          "title": {"text": "Digital Class 2", "fontSize": 22, "offset": 2},
          "width": 172, "height": 152,
          "transform": [{"filter": "datum.panel === 'Digital Class 2'"}],
          "encoding": {
            "x": {"field": "x", "type": "quantitative", "scale": {"domain": [-1, 9], "nice": false, "zero": false}, "axis": {"values": [0, 2, 4, 6, 8], "title": "Time in Cold (Weeks)", "titleFontSize": 22, "titlePadding": 16, "labelFontSize": 18, "labelPadding": 12}},
            "y": {"field": "y", "type": "quantitative", "scale": {"domain": [0, 1], "nice": false}, "axis": {"values": [0, 0.5, 1], "format": "~g", "title": null, "labelFontSize": 18, "labelPadding": 6}},
            "color": {"field": "series", "type": "nominal", "scale": {"domain": ["Experiment", "Simulation"], "range": ["#2f4fa0", "#e8322c"]}, "legend": null}
          },
          "layer": [
            {"transform": [{"filter": "datum.series === 'Experiment'"}], "mark": {"type": "line", "strokeWidth": 2, "strokeDash": [2, 9]}},
            {"transform": [{"filter": "datum.series === 'Simulation'"}], "mark": {"type": "line", "strokeWidth": 3.5, "strokeDash": [14, 12]}},
            {"transform": [{"filter": "datum.series === 'Experiment'"}], "mark": {"type": "rule", "strokeWidth": 2.5}, "encoding": {"y": {"field": "lo", "type": "quantitative"}, "y2": {"field": "hi"}}},
            {"transform": [{"filter": "datum.series === 'Experiment'"}], "mark": {"type": "tick", "orient": "horizontal", "size": 7, "thickness": 2}, "encoding": {"y": {"field": "lo", "type": "quantitative"}}},
            {"transform": [{"filter": "datum.series === 'Experiment'"}], "mark": {"type": "tick", "orient": "horizontal", "size": 7, "thickness": 2}, "encoding": {"y": {"field": "hi", "type": "quantitative"}}},
            {"transform": [{"filter": "datum.series === 'Experiment'"}], "mark": {"type": "square", "size": 45, "opacity": 1}},
            {"transform": [{"filter": "datum.series === 'Simulation'"}], "mark": {"type": "point", "shape": "circle", "filled": false, "size": 55, "strokeWidth": 3, "opacity": 1}}
          ]
        },
        {
          "title": {"text": "Analog", "fontSize": 22, "offset": 2},
          "width": 172, "height": 152,
          "transform": [{"filter": "datum.panel === 'Analog'"}],
          "encoding": {
            "x": {"field": "x", "type": "quantitative", "scale": {"domain": [-1, 9], "nice": false, "zero": false}, "axis": {"values": [0, 2, 4, 6, 8], "title": null, "labelFontSize": 18, "labelPadding": 12}},
            "y": {"field": "y", "type": "quantitative", "scale": {"domain": [0, 1], "nice": false}, "axis": {"values": [0, 0.5, 1], "format": "~g", "title": null, "labelFontSize": 18, "labelPadding": 6}},
            "color": {"field": "series", "type": "nominal", "scale": {"domain": ["Experiment", "Simulation"], "range": ["#2f4fa0", "#e8322c"]}, "legend": null}
          },
          "layer": [
            {
              "transform": [{"filter": "false"}],
              "mark": {"type": "point", "filled": false, "size": 625, "strokeWidth": 2.5, "opacity": 1},
              "encoding": {
                "fill": {"field": "series", "type": "nominal", "scale": {"domain": ["Experiment", "Simulation"], "range": ["white", "#e8322c"]},
                  "legend": {"orient": "none", "legendX": 85, "legendY": 2, "title": null, "direction": "vertical", "strokeColor": "#111", "fillColor": "white", "padding": 5, "labelFontSize": 18, "labelOffset": 6, "rowPadding": 4, "symbolSize": 625, "symbolStrokeWidth": 2.5}},
                "stroke": {"field": "series", "type": "nominal", "scale": {"domain": ["Experiment", "Simulation"], "range": ["#2f4fa0", "#e8322c"]},
                  "legend": {"orient": "none", "legendX": 85, "legendY": 2, "title": null, "direction": "vertical", "strokeColor": "#111", "fillColor": "white", "padding": 5, "labelFontSize": 18, "labelOffset": 6, "rowPadding": 4, "symbolSize": 625, "symbolStrokeWidth": 2.5}},
                "shape": {"field": "series", "type": "nominal", "scale": {"domain": ["Experiment", "Simulation"], "range": ["M-0.95,0H-0.75M-0.45,0H-0.25M0.1,-0.3H0.7V0.3H0.1Z", "M-1,0H1M0.75,0A0.35,0.35,0,1,1,0.05,0A0.35,0.35,0,1,1,0.75,0"]},
                  "legend": {"orient": "none", "legendX": 85, "legendY": 2, "title": null, "direction": "vertical", "strokeColor": "#111", "fillColor": "white", "padding": 5, "labelFontSize": 18, "labelOffset": 6, "rowPadding": 4, "symbolSize": 625, "symbolStrokeWidth": 2.5}}
              }
            },
            {"transform": [{"filter": "datum.series === 'Experiment'"}], "mark": {"type": "line", "strokeWidth": 2, "strokeDash": [2, 9]}},
            {"transform": [{"filter": "datum.series === 'Simulation'"}], "mark": {"type": "line", "strokeWidth": 3.5, "strokeDash": [14, 12]}},
            {"transform": [{"filter": "datum.series === 'Experiment'"}], "mark": {"type": "rule", "strokeWidth": 2.5}, "encoding": {"y": {"field": "lo", "type": "quantitative"}, "y2": {"field": "hi"}}},
            {"transform": [{"filter": "datum.series === 'Experiment'"}], "mark": {"type": "tick", "orient": "horizontal", "size": 7, "thickness": 2}, "encoding": {"y": {"field": "lo", "type": "quantitative"}}},
            {"transform": [{"filter": "datum.series === 'Experiment'"}], "mark": {"type": "tick", "orient": "horizontal", "size": 7, "thickness": 2}, "encoding": {"y": {"field": "hi", "type": "quantitative"}}},
            {"transform": [{"filter": "datum.series === 'Experiment'"}], "mark": {"type": "square", "size": 45, "opacity": 1}},
            {"transform": [{"filter": "datum.series === 'Simulation'"}], "mark": {"type": "point", "shape": "circle", "filled": false, "size": 55, "strokeWidth": 3, "opacity": 1}}
          ]
        }
      ]
    }
  ]
}
